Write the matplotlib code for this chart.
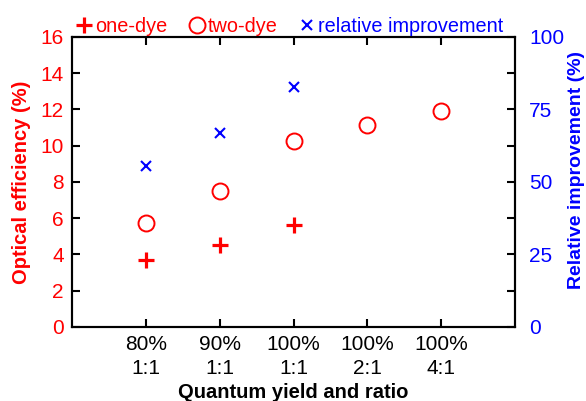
import matplotlib.pyplot as plt
import numpy as np

plt.rcParams['font.family'] = ['Liberation Sans', 'DejaVu Sans']
plt.rcParams['font.size'] = 15

categories = ['80%\n1:1', '90%\n1:1', '100%\n1:1', '100%\n2:1', '100%\n4:1']
one_dye = [3.70, 4.52, 5.61]
two_dye = [5.75, 7.50, 10.26, 11.13, 11.93]
improvement = [55.3, 67.0, 82.6]

red = '#ff0000'
blue = '#0000ff'

fig = plt.figure(figsize=(5.86, 4.01), dpi=100)
ax = fig.add_axes([0.123, 0.185, 0.756, 0.723])
ax2 = ax.twinx()

x = np.arange(1, len(categories) + 1)
h1, = ax.plot(x[:len(one_dye)], one_dye, '+', color=red, markersize=12, markeredgewidth=2.3, linestyle='none')
h2, = ax.plot(x, two_dye, 'o', color=red, markerfacecolor='none', markersize=11.5, markeredgewidth=1.4, linestyle='none')
h3, = ax2.plot(x[:len(improvement)], improvement, 'x', color=blue, markersize=7, markeredgewidth=1.5, linestyle='none')

ax.set_xlim(0, 6)
ax.set_ylim(0, 16)
ax2.set_ylim(0, 100)
ax.set_xticks(x)
ax.set_xticklabels(categories, linespacing=1.35)
ax.set_yticks(np.arange(0, 17, 2))
ax2.set_yticks([0, 25, 50, 75, 100])

ax.tick_params(axis='x', direction='in', length=6, width=1.5, top=True, pad=6, colors='black')
ax.tick_params(axis='y', direction='in', length=6, width=1.5, right=True, pad=6, labelcolor=red)
ax2.tick_params(axis='y', direction='in', length=0, pad=10, labelcolor=blue)

for s in ax.spines.values():
    s.set_linewidth(1.5)
for s in ax2.spines.values():
    s.set_linewidth(1.5)

ax.set_xlabel('Quantum yield and ratio', fontweight='bold', fontsize=14.5, labelpad=3)
ax.set_ylabel('Optical efficiency (%)', fontweight='bold', fontsize=14.5, color=red, labelpad=7)
ax2.set_ylabel('Relative improvement (%)', fontweight='bold', fontsize=14, color=blue)
ax2.yaxis.set_label_coords(1.12, 0.54)

leg = ax.legend([h1, h2, h3], ['one-dye', 'two-dye', 'relative improvement'],
                loc='lower left', bbox_to_anchor=(-0.005, 0.975), ncol=3, frameon=False,
                fontsize=14.3, handlelength=0.6, handletextpad=0.25, columnspacing=1.2, borderaxespad=0)
for t, c in zip(leg.get_texts(), [red, red, blue]):
    t.set_color(c)

fig.savefig('out.png', dpi=100)
